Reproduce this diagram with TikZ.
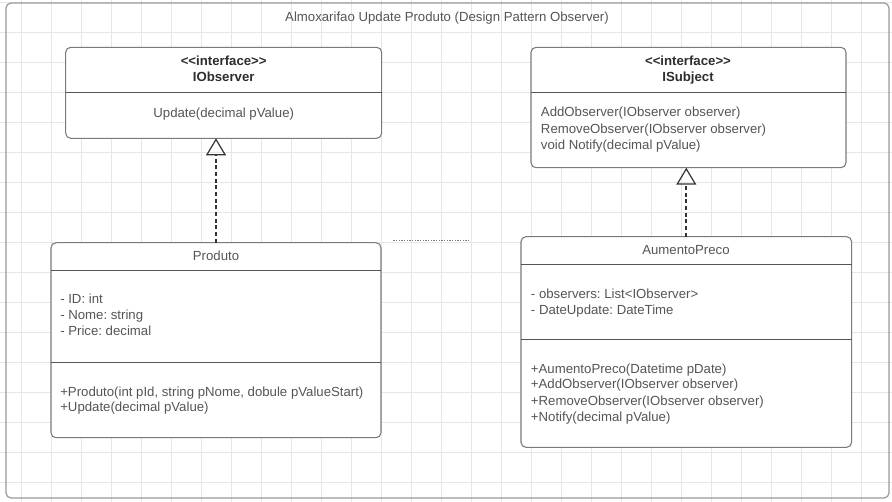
\documentclass[tikz,border=0pt]{standalone}
\usepackage{fontspec}
\setmainfont{Liberation Sans}
\usetikzlibrary{arrows.meta}
\frenchspacing
\definecolor{gridc}{HTML}{E6E6E6}
\definecolor{framec}{HTML}{9A9A9A}
\definecolor{boxc}{HTML}{7A7A7A}
\definecolor{divc}{HTML}{555555}
\definecolor{txtc}{HTML}{555555}
\definecolor{boldc}{HTML}{2E2E2E}
\definecolor{arrc}{HTML}{333333}
\definecolor{dotc}{HTML}{808080}
\tikzset{
  classbox/.style={draw=boxc, fill=white, line width=0.8pt, rounded corners=3.8pt, inner sep=0pt, outer sep=0pt},
  framebox/.style={draw=framec, line width=0.9pt, rounded corners=3.8pt, inner sep=0pt, outer sep=0pt},
  divline/.style={draw=divc, line width=0.75pt},
  txt/.style={font=\fontsize{9.9pt}{12pt}\selectfont, text=txtc, inner sep=0pt, anchor=base west},
  ctxt/.style={txt, anchor=base},
  btxt/.style={ctxt, font=\fontsize{9.9pt}{12pt}\selectfont\bfseries, text=boldc},
  realize/.style={draw=arrc, line width=1.5pt, dash pattern=on 3pt off 2pt,
    -{Triangle[open, length=12.75pt, width=15pt, line width=0.9pt]}}
}
\begin{document}
\begin{tikzpicture}[x=0.75pt,y=-0.75pt]
\useasboundingbox (0,0) rectangle (892,502);
\fill[white] (0,0) rectangle (892,502);
% grid
\foreach \i in {0,...,28} \draw[gridc, line width=0.6pt] ({21.7+30*\i},0) -- ++(0,502);
\foreach \j in {0,...,16} \draw[gridc, line width=0.6pt] (0,{2.3+30*\j}) -- ++(892,0);
% frame
\node[framebox, minimum width=662.25pt, minimum height=371.25pt] (frame) at (447.5,250.5) {};
\node[ctxt] (title) at (447,21.8) {Almoxarifao Update Produto (Design Pattern Observer)};
% IObserver
\node[classbox, minimum width=237pt, minimum height=68.25pt] (iobs) at (223.7,92.8) {};
\draw[divline] (iobs.north west) ++(0,45) -- ++(316,0);
\node[btxt] (iobsst) at (223.7,65.8) {<{}<interface>{}>};
\node[btxt] (iobsname) at (223.7,81.5) {IObserver};
\node[ctxt] (iobsm1) at (223.7,118) {Update(decimal pValue)};
% ISubject
\node[classbox, minimum width=236.25pt, minimum height=90.3pt] (isubj) at (688.5,107.5) {};
\draw[divline] (isubj.north west) ++(0,45) -- ++(315,0);
\node[btxt] (isubjst) at (688,65.8) {<{}<interface>{}>};
\node[btxt] (isubjname) at (688,81.5) {ISubject};
\node[txt] (isubjm1) at (540.7,117) {AddObserver(IObserver observer)};
\node[txt] (isubjm2) at (540.7,133.5) {RemoveObserver(IObserver observer)};
\node[txt] (isubjm3) at (540.7,149.5) {void Notify(decimal pValue)};
% Produto
\node[classbox, minimum width=247.5pt, minimum height=146.25pt] (prod) at (216,340.2) {};
\draw[divline] (prod.north west) ++(0,28.3) -- ++(330,0);
\draw[divline] (prod.north west) ++(0,119.6) -- ++(330,0);
\node[ctxt] (prodname) at (216,260.5) {Produto};
\node[txt] (proda1) at (60,303.8) {- ID: int};
\node[txt] (proda2) at (60,320) {- Nome: string};
\node[txt] (proda3) at (60,335.5) {- Price: decimal};
\node[txt] (prodm1) at (60,396) {+Produto(int pId, string pNome, dobule pValueStart)};
\node[txt] (prodm2) at (60,411.5) {+Update(decimal pValue)};
% AumentoPreco
\node[classbox, minimum width=248pt, minimum height=158pt] (aum) at (686.3,342) {};
\draw[divline] (aum.north west) ++(0,27.6) -- ++(330.7,0);
\draw[divline] (aum.north west) ++(0,103.3) -- ++(330.7,0);
\node[ctxt] (aumname) at (686,254.8) {AumentoPreco};
\node[txt] (auma1) at (530.7,298) {- observers: List<IObserver>};
\node[txt] (auma2) at (530.7,314) {- DateUpdate: DateTime};
\node[txt] (aumm1) at (530.7,373) {+AumentoPreco(Datetime pDate)};
\node[txt] (aumm2) at (530.7,388.8) {+AddObserver(IObserver observer)};
\node[txt] (aumm3) at (530.7,405.5) {+RemoveObserver(IObserver observer)};
\node[txt] (aumm4) at (530.7,421.5) {+Notify(decimal pValue)};
% realizations
\draw[realize] (prod.north) -- (prod.north |- iobs.south);
\draw[realize] (aum.north) -- (aum.north |- isubj.south);
% stray dotted line
\coordinate (d1) at (393.3,240);
\coordinate (d2) at (468.3,240);
\draw[dotc, line width=0.6pt, dash pattern=on 1pt off 1pt] (d1) -- (d2);
\end{tikzpicture}
\end{document}
